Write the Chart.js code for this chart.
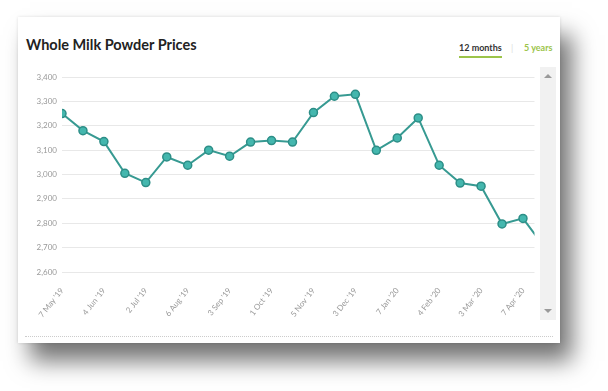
<!DOCTYPE html>
<html>
<head>
<meta charset="utf-8">
<script src="https://cdn.jsdelivr.net/npm/chart.js@4"></script>
<style>
  html, body { margin: 0; padding: 0; background: #fff; }
  body { width: 608px; height: 391px; position: relative; overflow: hidden; font-family: Lato, "Open Sans", sans-serif; }
  .card {
    position: absolute; left: 18px; top: 17px; width: 542px; height: 326px;
    background: #fff;
    box-shadow: 12px 18px 22px rgba(0, 0, 0, 0.55), 0 0 3px rgba(0, 0, 0, 0.12);
  }
  .title { position: absolute; left: 26px; top: 36px; font-size: 14.5px; font-weight: bold; color: #222; }
  .tab { position: absolute; top: 42px; font-size: 9px; font-weight: bold; }
  .tab.on { left: 459px; color: #333; padding-bottom: 3px; border-bottom: 2px solid #9cc44a; }
  .sep { position: absolute; left: 511px; top: 42px; font-size: 9px; color: #ddd; }
  .tab.off { left: 524px; color: #9cc44a; }
  .chart { position: absolute; left: 18px; top: 60px; width: 522px; height: 266px; }
  .scroll { position: absolute; left: 540px; top: 67px; width: 16px; height: 253px; background: #f1f1f1; }
  .up, .down { position: absolute; left: 4px; width: 0; height: 0; border-left: 4px solid transparent; border-right: 4px solid transparent; }
  .up { top: 7px; border-bottom: 4px solid #9a9a9a; }
  .down { bottom: 7px; border-top: 4px solid #9a9a9a; }
  .dots { position: absolute; left: 25px; top: 336px; width: 528px; border-top: 1px dotted #ccc; }
</style>
</head>
<body>
<div class="card"></div>
<div class="title">Whole Milk Powder Prices</div>
<div class="tab on">12 months</div>
<div class="sep">|</div>
<div class="tab off">5 years</div>
<div class="chart"><canvas id="wmp-chart"></canvas></div>
<div class="scroll"><div class="up"></div><div class="down"></div></div>
<div class="dots"></div>

<script>
var labels = [
    "7 May '19", "21 May '19", "4 Jun '19", "18 Jun '19", "2 Jul '19", "16 Jul '19",
    "6 Aug '19", "20 Aug '19", "3 Sep '19", "17 Sep '19", "1 Oct '19", "15 Oct '19",
    "5 Nov '19", "19 Nov '19", "3 Dec '19", "17 Dec '19", "7 Jan '20", "21 Jan '20",
    "4 Feb '20", "18 Feb '20", "3 Mar '20", "17 Mar '20", "7 Apr '20", "21 Apr '20"
];
var prices = [
    3250, 3180, 3135, 3005, 2967, 3072,
    3038, 3100, 3075, 3133, 3139, 3133,
    3254, 3321, 3329, 3099, 3150, 3232,
    3038, 2965, 2952, 2797, 2820, 2705
];
var yTicks = [2600, 2700, 2800, 2900, 3000, 3100, 3200, 3300, 3400];

var points = prices.map(function(v, i) {
    return { x: i, y: v };
});

var ctx = document.getElementById("wmp-chart").getContext("2d");
var myChart = new Chart(ctx, {
    type: "line",
    data: {
        datasets: [
            {
                label: "WMP",
                data: points,
                borderColor: "#379a92",
                borderWidth: 2,
                backgroundColor: "#44b7ae",
                pointBorderColor: "#2d8e87",
                pointBorderWidth: 1.5,
                pointRadius: 4,
                tension: 0
            }
        ]
    },
    options: {
        responsive: true,
        maintainAspectRatio: false,
        animation: false,
        layout: { padding: { top: 17, right: 2, left: 0, bottom: 0 } },
        plugins: { legend: { display: false }, tooltip: { enabled: false } },
        scales: {
            x: {
                type: "linear",
                min: 0,
                max: 22.55,
                grid: { display: false },
                border: { display: false },
                afterFit: function(scale) { scale.height = 54; },
                ticks: {
                    stepSize: 2,
                    includeBounds: false,
                    minRotation: 52,
                    maxRotation: 52,
                    padding: 6,
                    color: "#999",
                    font: { family: "Lato", size: 8 },
                    callback: function(value) { return labels[value]; }
                }
            },
            y: {
                min: yTicks[0],
                max: yTicks[yTicks.length - 1],
                afterFit: function(scale) { scale.width = 44; },
                grid: { color: "#e8e8e8", drawTicks: false },
                border: { display: false },
                ticks: {
                    stepSize: 100,
                    padding: 5,
                    color: "#999",
                    font: { family: "Lato", size: 8 },
                    callback: function(value) { return value.toLocaleString("en-US"); }
                }
            }
        }
    }
});
</script>
</body>
</html>
